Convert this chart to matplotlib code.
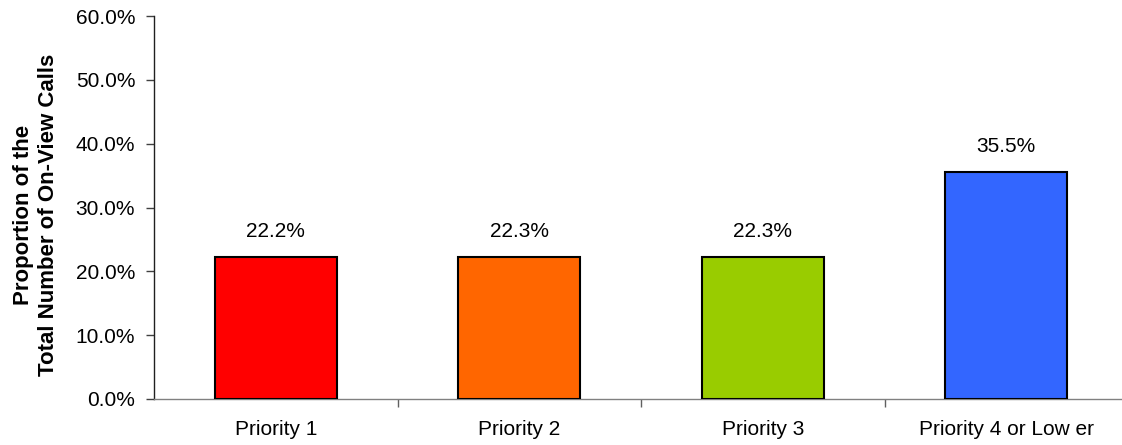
import matplotlib
matplotlib.use("Agg")
import matplotlib.pyplot as plt
from matplotlib.ticker import FixedLocator, PercentFormatter

categories = ["Priority 1", "Priority 2", "Priority 3", "Priority 4 or Low er"]
values = [22.2, 22.3, 22.3, 35.5]
bar_colors = ["#FF0000", "#FF6600", "#99CC00", "#3366FF"]
y_ticks = [0, 10, 20, 30, 40, 50, 60]

plt.rcParams['font.family'] = ['Liberation Sans', 'DejaVu Sans']

fig = plt.figure(figsize=(11.22, 4.45), dpi=100)
W, H = 1122, 445
ax_left, ax_right, ax_top, ax_bottom = 154, 1128, 16, 399
ax = fig.add_axes([ax_left / W, 1 - ax_bottom / H, (ax_right - ax_left) / W, (ax_bottom - ax_top) / H])

x = list(range(len(categories)))
bars = ax.bar(x, values, width=0.5, color=bar_colors, edgecolor="black", linewidth=1.5, zorder=3)

for xi, v in zip(x, values):
    ax.annotate(f"{v:.1f}%", xy=(xi, v), xytext=(0, 11.5), textcoords="offset points",
                ha="center", va="bottom", fontsize=15, color="black")

ax.set_xlim(-0.5, len(categories) - 0.5)
ax.set_ylim(0, 60)
ax.set_yticks(y_ticks)
ax.yaxis.set_major_formatter(PercentFormatter(decimals=1))
ax.tick_params(axis="y", labelsize=15, length=6, width=1, pad=7.5, direction="out", color="#404040")

ax.set_xticks(x)
ax.set_xticklabels(categories)
ax.tick_params(axis="x", which="major", length=0, labelsize=15, pad=15)
ax.xaxis.set_minor_locator(FixedLocator([i + 0.5 for i in range(len(categories) - 1)]))
ax.tick_params(axis="x", which="minor", length=6, width=1, direction="out", color="#606060")

for s in ["top", "right"]:
    ax.spines[s].set_visible(False)
ax.spines["left"].set_color("#202020")
ax.spines["bottom"].set_color("#808080")
ax.spines["left"].set_linewidth(1)
ax.spines["bottom"].set_linewidth(1)

fig.text(36 / W, 1 - 215 / H, "Proportion of the\nTotal Number of On-View Calls",
         rotation=90, ha="center", va="center", fontsize=16, fontweight="bold",
         linespacing=1.25)

fig.savefig("out.png", dpi=100)
